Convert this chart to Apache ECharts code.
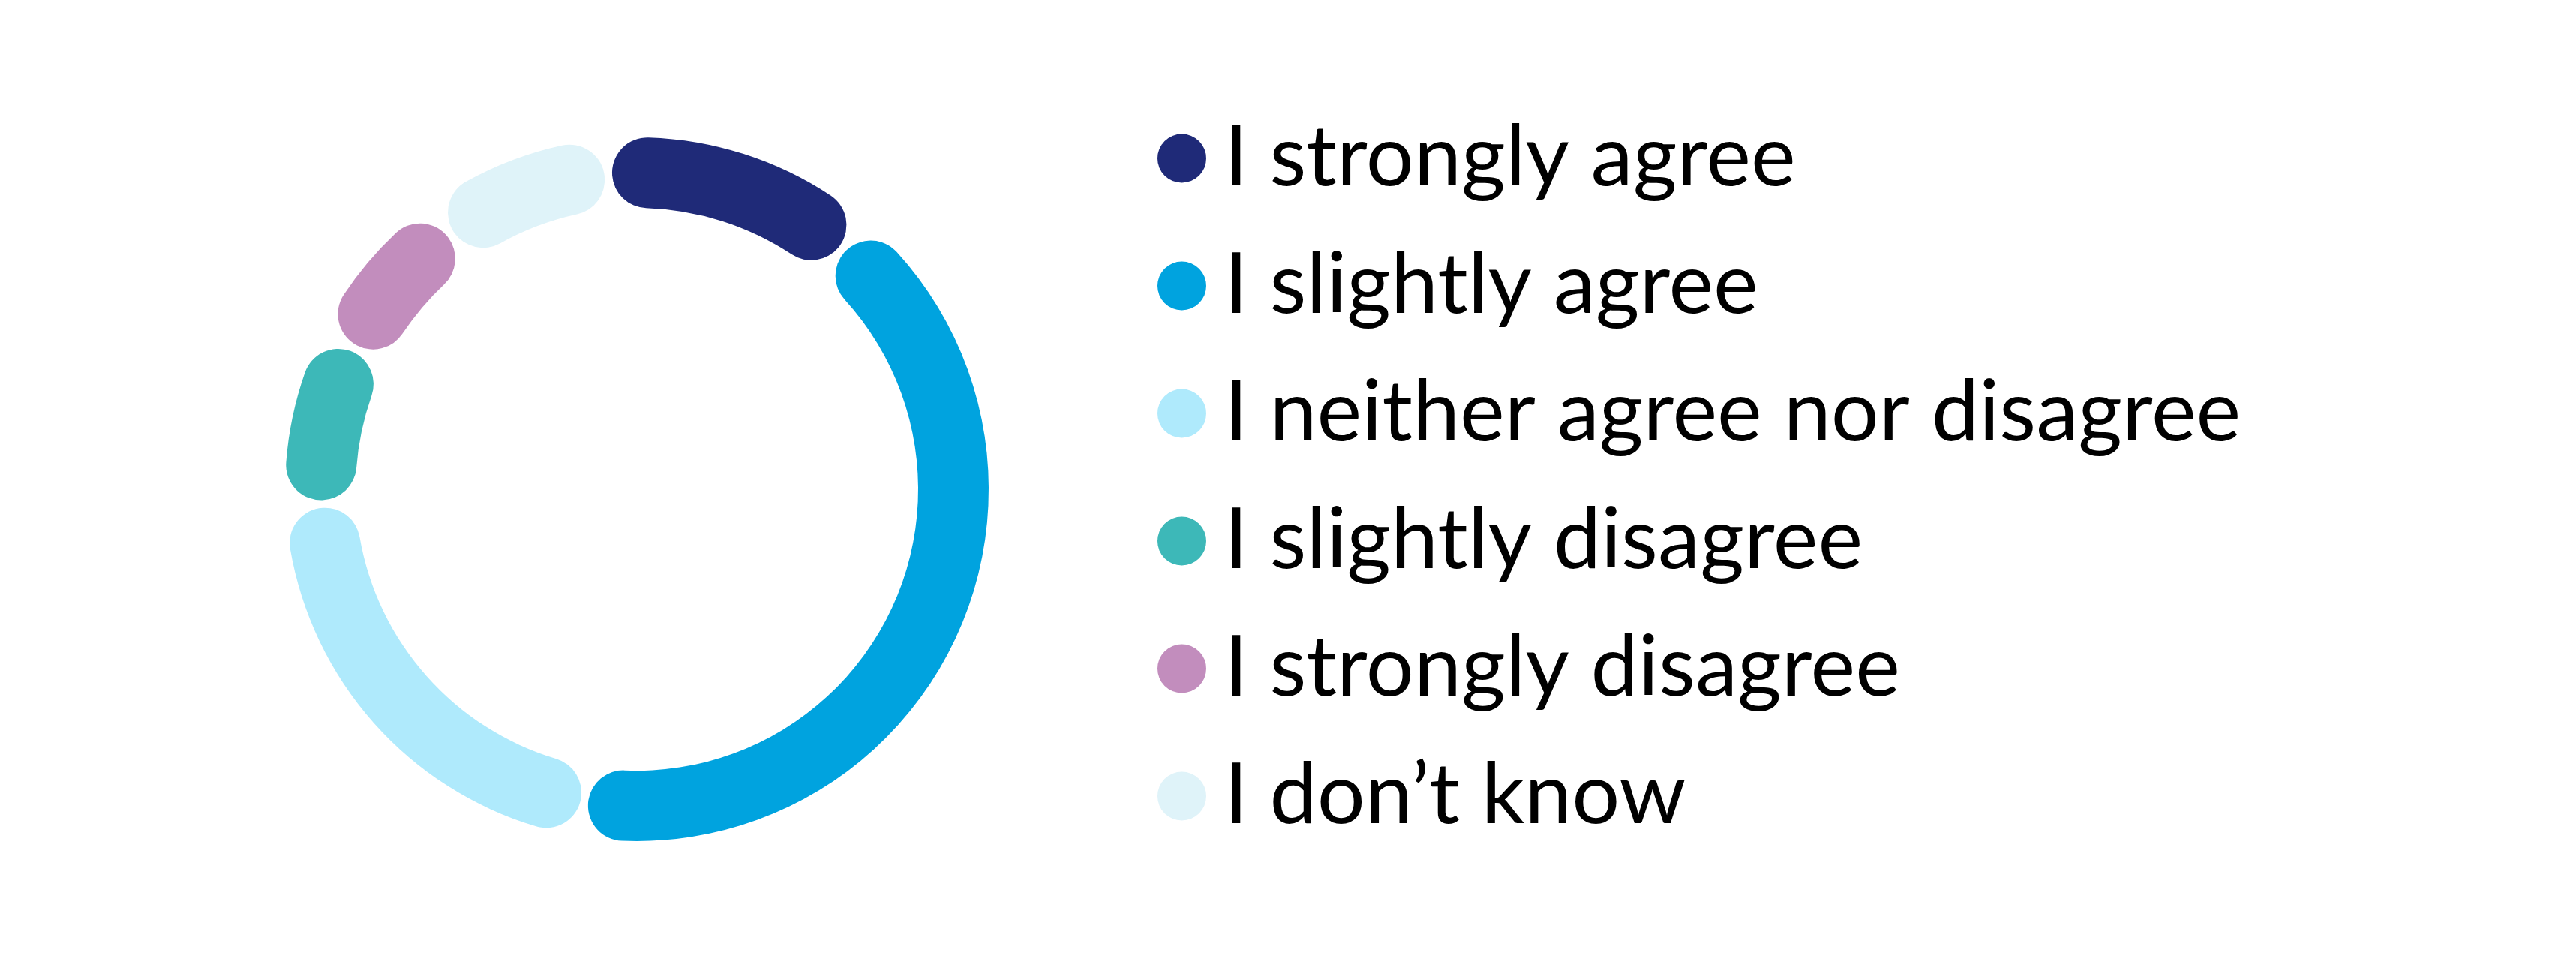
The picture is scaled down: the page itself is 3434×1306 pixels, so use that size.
<!DOCTYPE html>
<html><head><meta charset="utf-8">
<script src="https://cdn.jsdelivr.net/npm/echarts@6/dist/echarts.min.js"></script>
<style>html,body{margin:0;padding:0;background:#fff}#c{width:3434px;height:1306px}</style>
</head><body><div id="c"></div>
<script>
const categories = ['I strongly agree', 'I slightly agree', 'I neither agree nor disagree', 'I slightly disagree', 'I strongly disagree', 'I don\u2019t know'];
const values = [12.7, 41.4, 21.6, 8.1, 7.6, 8.6];
const colors = ['#1f2a78', '#00a3df', '#afeafc', '#3db8b8', '#c28dbd', '#dff3f9'];

const chart = echarts.init(document.getElementById('c'), null, {renderer: 'canvas'});
chart.setOption({
  animation: false,
  backgroundColor: '#ffffff',
  color: colors,
  legend: {
    orient: 'vertical',
    left: 1538,
    top: 146,
    icon: 'circle',
    itemWidth: 65,
    itemHeight: 65,
    itemGap: 50,
    selectedMode: false,
    data: categories,
    textStyle: {fontFamily: 'Lato', fontSize: 113, color: '#000', lineHeight: 120, padding: [0, 0, 0, 19]}
  },
  series: [{
    type: 'pie',
    center: [849, 652],
    radius: [375, 469],
    startAngle: 95.2,
    padAngle: 1.4,
    itemStyle: {borderRadius: 47},
    label: {show: false},
    labelLine: {show: false},
    emphasis: {disabled: true},
    data: categories.map((n, i) => ({name: n, value: values[i]}))
  }]
});
</script></body></html>
